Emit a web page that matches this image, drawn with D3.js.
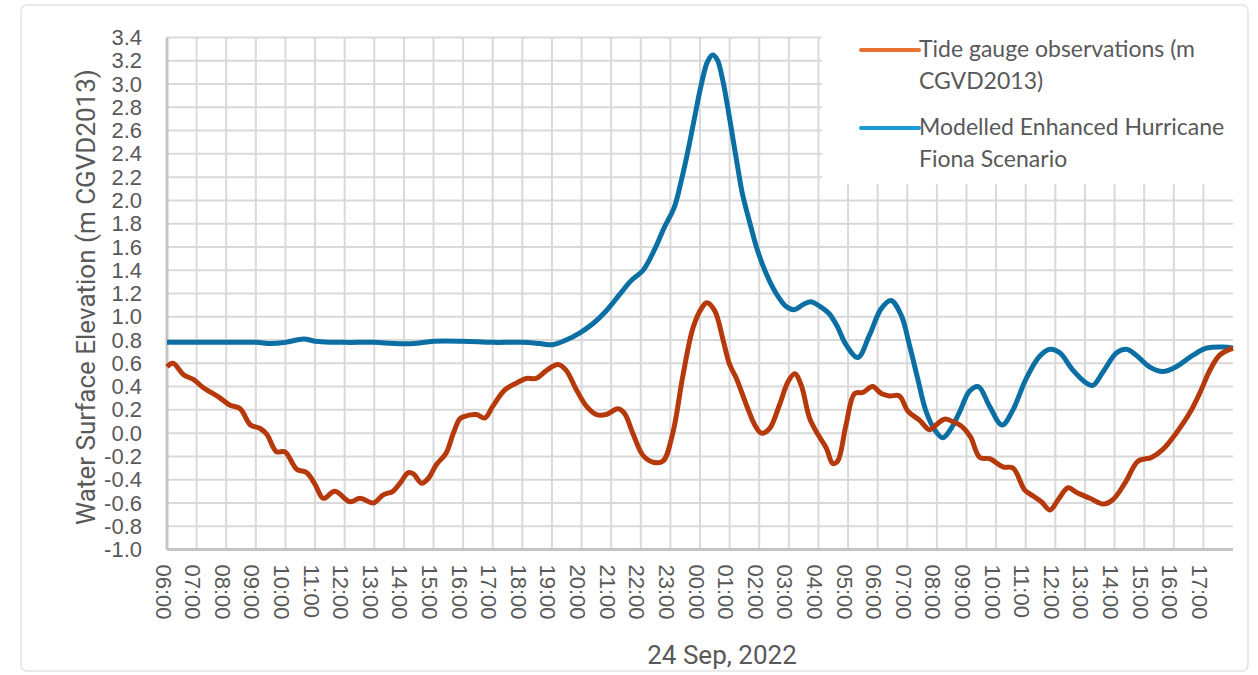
<!DOCTYPE html>
<html>
<head>
<meta charset="utf-8">
<script src="https://cdn.jsdelivr.net/npm/d3@7"></script>
<style>
  body { margin: 0; background: #fff; }
  svg { display: block; }
</style>
</head>
<body>
<div id="content"></div>
<script>
// hours after 06:00 on the first day
var obsHours = [0, 0.2, 0.57, 0.9, 1.23, 1.75, 2.13, 2.47, 2.82, 3.15, 3.37, 3.7, 3.98, 4.38, 4.72, 5.0, 5.28, 5.67,
  6.18, 6.52, 6.97, 7.3, 7.63, 7.87, 8.15, 8.32, 8.6, 8.82, 9.1, 9.43, 9.67, 9.88, 10.0, 10.45, 10.73, 11.0,
  11.4, 11.8, 12.13, 12.47, 12.82, 13.2, 13.48, 13.83, 14.17, 14.5, 14.83, 15.23, 15.45, 15.73, 16.07, 16.42,
  16.75, 17.08, 17.42, 17.77, 18.07, 18.23, 18.5, 18.78, 19.0, 19.23, 19.57, 19.85, 20.07, 20.35, 20.68, 20.97,
  21.2, 21.42, 21.7, 21.98, 22.27, 22.48, 22.65, 22.93, 23.22, 23.5, 23.83, 24.12, 24.4, 24.73, 25.02, 25.42,
  25.75, 25.97, 26.25, 26.53, 26.83, 27.13, 27.45, 27.78, 28.23, 28.57, 28.97, 29.25, 29.53, 29.82, 30.1,
  30.43, 30.72, 31.17, 31.62, 31.95, 32.35, 32.8, 33.25, 33.63, 34.08, 34.53, 34.87, 35.22, 35.55, 36.0];
var obsLevels = [0.57, 0.60, 0.50, 0.46, 0.39, 0.31, 0.24, 0.21, 0.07, 0.04, -0.01, -0.16, -0.16, -0.31, -0.34, -0.44, -0.56, -0.50,
  -0.59, -0.56, -0.60, -0.53, -0.50, -0.43, -0.34, -0.35, -0.43, -0.39, -0.27, -0.17, 0.0, 0.12, 0.14, 0.16, 0.13, 0.23,
  0.37, 0.43, 0.47, 0.47, 0.54, 0.59, 0.54, 0.37, 0.23, 0.16, 0.16, 0.21, 0.17, 0.0, -0.19, -0.25,
  -0.24, 0.0, 0.49, 0.91, 1.08, 1.12, 1.05, 0.80, 0.59, 0.47, 0.24, 0.07, 0.0, 0.04, 0.24, 0.44,
  0.51, 0.41, 0.13, -0.01, -0.13, -0.26, -0.24, 0.07, 0.34, 0.35, 0.40, 0.34, 0.32, 0.32, 0.19, 0.11,
  0.03, 0.07, 0.12, 0.10, 0.06, -0.03, -0.21, -0.22, -0.29, -0.30, -0.49, -0.54, -0.59, -0.66, -0.57,
  -0.47, -0.51, -0.56, -0.61, -0.57, -0.43, -0.24, -0.21, -0.14, 0.0, 0.17, 0.34, 0.54, 0.67, 0.73];

var modHours = [0, 1, 2, 3, 3.5, 4, 4.62, 5, 6, 7, 7.67, 8.33, 9, 10, 11, 12, 12.58, 13.03, 13.48, 13.93,
  14.38, 14.83, 15.28, 15.67, 16.08, 16.45, 16.78, 17.13, 17.35, 17.58, 17.8, 18.03, 18.25, 18.42, 18.58,
  18.77, 18.93, 19.1, 19.27, 19.43, 19.67, 19.93, 20.22, 20.55, 20.9, 21.18, 21.45, 21.73, 22.05, 22.35,
  22.63, 22.93, 23.33, 23.72, 24.12, 24.45, 24.8, 25.07, 25.35, 25.63, 25.92, 26.2, 26.48, 26.78, 27.1,
  27.4, 27.78, 28.2, 28.57, 29.0, 29.47, 29.82, 30.15, 30.6, 31.05, 31.27, 31.62, 32.07, 32.4, 32.73,
  33.18, 33.63, 34.08, 34.65, 35.1, 35.67, 36.0];
var modLevels = [0.78, 0.78, 0.78, 0.78, 0.77, 0.78, 0.81, 0.79, 0.78, 0.78, 0.77, 0.77, 0.79, 0.79, 0.78, 0.78, 0.77, 0.76, 0.80, 0.86,
  0.94, 1.05, 1.19, 1.31, 1.40, 1.57, 1.76, 1.94, 2.15, 2.41, 2.69, 2.98, 3.19, 3.25, 3.21,
  3.03, 2.81, 2.55, 2.29, 2.06, 1.82, 1.58, 1.38, 1.21, 1.09, 1.06, 1.10, 1.13, 1.09, 1.03,
  0.92, 0.76, 0.65, 0.84, 1.07, 1.14, 1.01, 0.76, 0.47, 0.19, 0.03, -0.04, 0.04, 0.19, 0.36,
  0.40, 0.23, 0.07, 0.20, 0.46, 0.66, 0.72, 0.69, 0.54, 0.43, 0.41, 0.53, 0.69, 0.72, 0.67,
  0.57, 0.53, 0.57, 0.67, 0.73, 0.74, 0.73];

var xLabels = ['06:00', '07:00', '08:00', '09:00', '10:00', '11:00', '12:00', '13:00', '14:00', '15:00', '16:00', '17:00',
  '18:00', '19:00', '20:00', '21:00', '22:00', '23:00', '00:00', '01:00', '02:00', '03:00', '04:00', '05:00',
  '06:00', '07:00', '08:00', '09:00', '10:00', '11:00', '12:00', '13:00', '14:00', '15:00', '16:00', '17:00'];
var yTicks = [-1.0, -0.8, -0.6, -0.4, -0.2, 0.0, 0.2, 0.4, 0.6, 0.8, 1.0, 1.2, 1.4, 1.6, 1.8, 2.0, 2.2, 2.4, 2.6, 2.8, 3.0, 3.2, 3.4];

var seriesNames = ['Tide gauge observations (m CGVD2013)', 'Modelled Enhanced Hurricane Fiona Scenario'];
var xTitle = '24 Sep, 2022';
var yTitle = 'Water Surface Elevation (m CGVD2013)';

var margin = { top: 37.5, right: 25, bottom: 125.5, left: 167 };
var width = 1258 - margin.left - margin.right;
var height = 675 - margin.top - margin.bottom;
var textColor = '#595959';
var tickFont = '"Liberation Sans", Arial, sans-serif';

var svg = d3.select('#content').append('svg')
  .attr('width', 1258)
  .attr('height', 675);

// outer chart frame
svg.append('rect')
  .attr('x', 21).attr('y', 5)
  .attr('width', 1227).attr('height', 666)
  .attr('rx', 6)
  .attr('fill', '#fff')
  .attr('stroke', '#e3e3e3')
  .attr('stroke-width', 1.5);

var g = svg.append('g')
  .attr('transform', `translate(${margin.left}, ${margin.top})`);

var x = d3.scaleLinear().domain([0, 36]).range([0, width]);
var y = d3.scaleLinear().domain([-1, 3.4]).range([height, 0]);

// grid
g.append('g')
  .selectAll('line')
  .data(yTicks)
  .enter().append('line')
  .attr('x1', 0).attr('x2', width)
  .attr('y1', d => y(d)).attr('y2', d => y(d))
  .attr('stroke', '#d9d9d9')
  .attr('stroke-width', 2);

g.append('g')
  .selectAll('line')
  .data(d3.range(1, xLabels.length))
  .enter().append('line')
  .attr('x1', d => x(d)).attr('x2', d => x(d))
  .attr('y1', 0).attr('y2', height)
  .attr('stroke', '#d9d9d9')
  .attr('stroke-width', 2);

// axis lines
g.append('line')
  .attr('x1', 0).attr('x2', 0).attr('y1', 0).attr('y2', height)
  .attr('stroke', '#c4c4c4').attr('stroke-width', 3);
g.append('line')
  .attr('x1', 0).attr('x2', width).attr('y1', height).attr('y2', height)
  .attr('stroke', '#c4c4c4').attr('stroke-width', 3);

// y axis labels
var yAxis = g.append('g')
  .call(d3.axisLeft(y).tickValues(yTicks).tickSize(0).tickPadding(25).tickFormat(d => d.toFixed(1)));
yAxis.select('.domain').remove();
yAxis.selectAll('text')
  .attr('fill', textColor)
  .style('font-family', tickFont)
  .style('font-size', '22px');

// x axis labels, rotated
var xAxis = g.append('g')
  .attr('transform', `translate(0, ${height})`)
  .call(d3.axisBottom(x).tickValues(d3.range(xLabels.length)).tickSize(0).tickFormat(i => xLabels[i]));
xAxis.select('.domain').remove();
xAxis.selectAll('text')
  .attr('fill', textColor)
  .attr('text-anchor', 'start')
  .attr('transform', 'rotate(90)')
  .attr('x', 15)
  .attr('y', 12)
  .attr('dy', 0)
  .style('font-family', tickFont)
  .style('font-size', '22px');

// series
var line = d3.line()
  .x(d => x(d[0]))
  .y(d => y(d[1]))
  .curve(d3.curveCatmullRom.alpha(0.5));

var modData = modHours.map((h, i) => [h, modLevels[i]]);
var obsData = obsHours.map((h, i) => [h, obsLevels[i]]);

g.append('path')
  .datum(modData)
  .attr('d', line)
  .attr('fill', 'none')
  .attr('stroke', '#0b6fa4')
  .attr('stroke-width', 5)
  .attr('stroke-linejoin', 'round');

g.append('path')
  .datum(obsData)
  .attr('d', line)
  .attr('fill', 'none')
  .attr('stroke', '#b5390b')
  .attr('stroke-width', 5)
  .attr('stroke-linejoin', 'round');

// titles
svg.append('text')
  .attr('x', 722).attr('y', 664)
  .attr('text-anchor', 'middle')
  .attr('fill', textColor)
  .style('font-family', 'Roboto, sans-serif')
  .style('font-size', '26px')
  .text(xTitle);

svg.append('text')
  .attr('transform', 'translate(86, 297) rotate(-90)')
  .attr('text-anchor', 'middle')
  .attr('dominant-baseline', 'central')
  .attr('fill', textColor)
  .style('font-family', 'Roboto, sans-serif')
  .style('font-size', '26px')
  .text(yTitle);

// legend
var legend = svg.append('g');
legend.append('rect')
  .attr('x', 822).attr('y', 22)
  .attr('width', 424).attr('height', 162)
  .attr('fill', '#fff');

var legendRows = [
  { color: '#e97132', y: 50, lines: ['Tide gauge observations (m', 'CGVD2013)'] },
  { color: '#1a9bd7', y: 128, lines: ['Modelled Enhanced Hurricane', 'Fiona Scenario'] }
];

legendRows.forEach((r, i) => {
  legend.append('line')
    .attr('x1', 861).attr('x2', 919)
    .attr('y1', r.y).attr('y2', r.y)
    .attr('stroke', r.color)
    .attr('stroke-width', 4)
    .attr('stroke-linecap', 'round');
  var t = legend.append('text')
    .attr('x', 919).attr('y', r.y + 7)
    .attr('fill', textColor)
    .style('font-family', 'Lato, sans-serif')
    .style('font-size', '23px')
    .attr('aria-label', seriesNames[i]);
  r.lines.forEach((s, k) => {
    t.append('tspan')
      .attr('x', 919)
      .attr('dy', k === 0 ? 0 : 31.5)
      .text(s);
  });
});
</script>
</body>
</html>
